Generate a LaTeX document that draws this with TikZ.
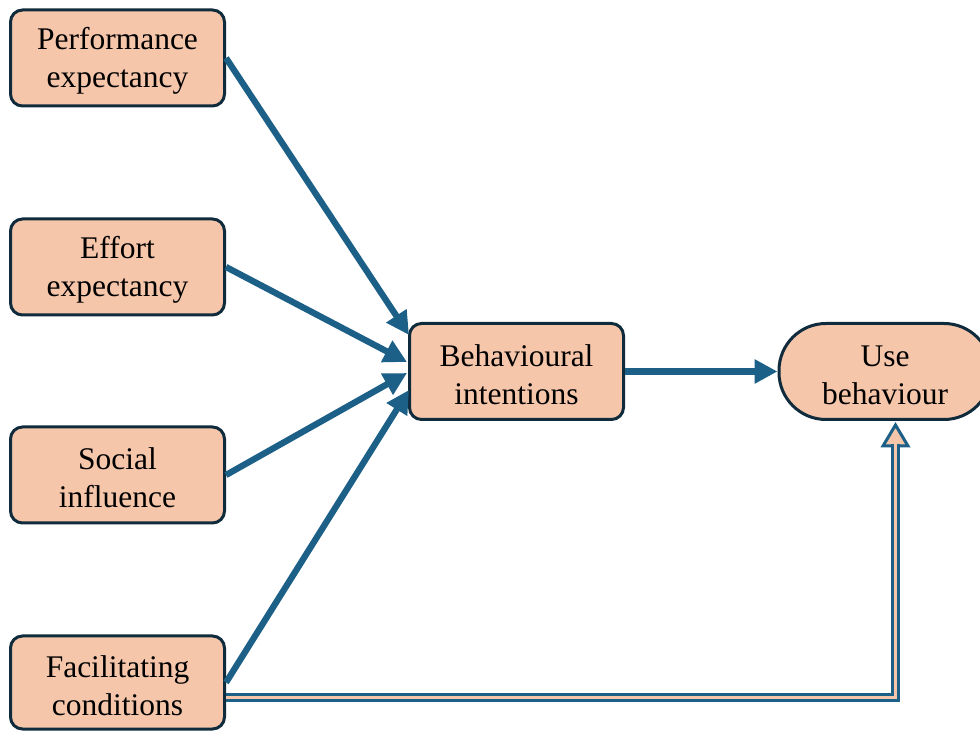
\documentclass[tikz,border=0pt]{standalone}
\usepackage{fontspec}
\setmainfont{Liberation Serif}
\usetikzlibrary{arrows.meta,calc}
\definecolor{peach}{HTML}{F6C6AB}
\definecolor{edge}{HTML}{0F2B3C}
\definecolor{arrowc}{HTML}{1C5F87}
\begin{document}
\begin{tikzpicture}[x=1pt,y=1pt,
  box/.style={draw=edge, fill=peach, line width=3pt, rounded corners=12pt,
    minimum width=214pt, minimum height=96pt, align=center,
    font=\fontsize{31.5}{38}\selectfont, inner sep=0pt, text height=65.5pt},
  stad/.style={box, rounded corners=47pt, minimum width=212pt},
  link/.style={draw=arrowc, line width=6.3pt, -{Triangle[length=23pt,width=23pt]}}]
\useasboundingbox (0,0) rectangle (980,731);
\begin{scope}
\clip (0,0) rectangle (980,731);
\node[box] (pe) at (117.5,673) {Performance\\expectancy};
\node[box] (ee) at (117.5,464) {Effort\\expectancy};
\node[box] (si) at (117.5,256) {Social\\influence};
\node[box, minimum height=93pt] (fc) at (117.5,48.5) {Facilitating\\conditions};
\node[box] (bi) at (516.5,359.5) {Behavioural\\intentions};
\node[stad] (ub) at (885,359.5) {Use\\behaviour};
\end{scope}
\coordinate (pet) at (409,396);
\coordinate (eet) at (407,369);
\coordinate (sit) at (407,358);
\coordinate (fct) at (409,341);
\draw[link] (pe.east) -- (pet);
\draw[link] (ee.east) -- (eet);
\draw[link] (si.east) -- (sit);
\draw[link] (fc.east) -- (fct);
\draw[link] (bi.east) -- (ub.west);
\coordinate (tip) at ([xshift=10.5pt,yshift=-4pt]ub.south);
\coordinate (hb) at ([yshift=-21pt]tip);
\filldraw[draw=arrowc, fill=peach, line width=3pt, line join=miter]
  ([xshift=-12.5pt]hb) -- (tip) -- ([xshift=12.5pt]hb) -- cycle;
\draw[arrowc, line width=3.8pt, double=peach, double distance=2.2pt]
  ([yshift=-15pt]fc.east) -| ([yshift=1.6pt]hb);
\end{tikzpicture}
\end{document}
